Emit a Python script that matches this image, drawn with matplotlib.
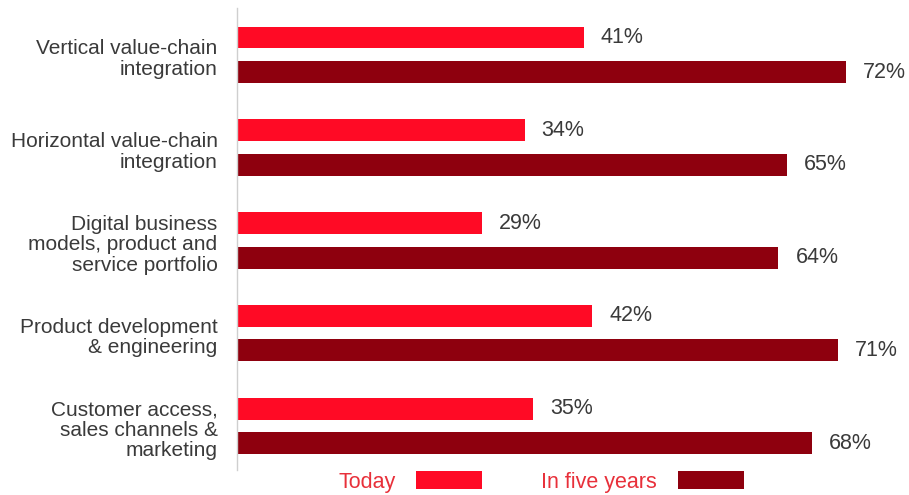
import matplotlib.pyplot as plt
import numpy as np

# Datos del grafico
categorias = [
    "Vertical value-chain\nintegration",
    "Horizontal value-chain\nintegration",
    "Digital business\nmodels, product and\nservice portfolio",
    "Product development\n& engineering",
    "Customer access,\nsales channels &\nmarketing",
]
hoy = [41, 34, 29, 42, 35]
cinco_anios = [72, 65, 64, 71, 68]
series = ["Today", "In five years"]

rojo = "#ff0a25"
rojo_oscuro = "#8e000e"
gris_texto = "#3a3a3a"

plt.rcParams["font.family"] = ["Liberation Sans", "DejaVu Sans"]

fig = plt.figure(figsize=(9.09, 4.95), dpi=100)
ax = fig.add_axes([237 / 909, 25 / 495, 672 / 909, 462 / 495])

y = np.arange(len(categorias))
alto = 0.237

b1 = ax.barh(y + 0.318, hoy, height=alto, color=rojo, label=series[0])
b2 = ax.barh(y + 0.69, cinco_anios, height=alto, color=rojo_oscuro, label=series[1])

for barras, valores in ((b1, hoy), (b2, cinco_anios)):
    for barra, v in zip(barras, valores):
        ax.annotate("{}%".format(v),
                    (v, barra.get_y() + barra.get_height() / 2),
                    xytext=(12.2, 0), textcoords="offset points",
                    va="center", ha="left", fontsize=15.5, color=gris_texto)

ax.set_xlim(0, 672 / 8.46)
ax.set_ylim(len(categorias) - 0.02, 0)

ax.set_yticks(y + 0.52)
ax.set_yticklabels(categorias, fontsize=15, color=gris_texto, linespacing=1.1)
ax.tick_params(axis="y", length=0, pad=14)
ax.set_xticks([])

for lado in ["top", "right", "bottom"]:
    ax.spines[lado].set_visible(False)
ax.spines["left"].set_color("#cfcfcf")
ax.spines["left"].set_linewidth(1)

leg = fig.legend(handles=[b1, b2], labels=series, loc="center",
                 bbox_to_anchor=(541 / 909, 1 - 482 / 495),
                 ncol=2, frameon=False, markerfirst=False, fontsize=15.5,
                 handlelength=3.07, handleheight=0.88, handletextpad=0.95,
                 columnspacing=2.75)
for t in leg.get_texts():
    t.set_color("#e8303a")

fig.savefig("out.png", dpi=100)
